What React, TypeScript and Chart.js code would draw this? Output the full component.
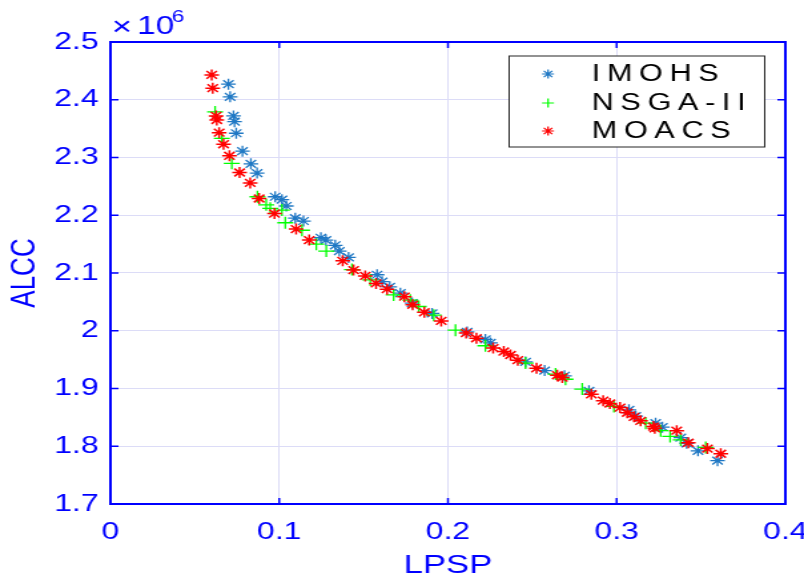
import React, { useEffect, useRef } from 'react';
import { Chart, registerables } from 'chart.js';
import { drawPoint } from 'chart.js/helpers';

Chart.register(...registerables);

// ---- data (ALCC in units of 1e6) ----
const imohsX = [0.0699, 0.0709, 0.0729, 0.0735, 0.0745, 0.0782, 0.0832, 0.0869, 0.0976, 0.1016, 0.1042, 0.1095, 0.1144, 0.1247, 0.1277, 0.1332, 0.1356, 0.1411, 0.158, 0.161, 0.1655, 0.1718, 0.1788, 0.1906, 0.2114, 0.2222, 0.2252, 0.246, 0.2573, 0.2691, 0.2836, 0.3073, 0.3113, 0.3231, 0.3271, 0.338, 0.3415, 0.3482, 0.3598];
const imohsY = [2.427, 2.405, 2.372, 2.362, 2.342, 2.311, 2.289, 2.273, 2.232, 2.227, 2.216, 2.195, 2.19, 2.161, 2.157, 2.148, 2.138, 2.127, 2.097, 2.085, 2.076, 2.065, 2.048, 2.03, 1.998, 1.985, 1.979, 1.946, 1.931, 1.922, 1.896, 1.863, 1.852, 1.84, 1.833, 1.815, 1.805, 1.792, 1.775];

const nsgaX = [0.062, 0.066, 0.0719, 0.0871, 0.0923, 0.0947, 0.1016, 0.1036, 0.1135, 0.122, 0.1279, 0.1431, 0.154, 0.1678, 0.1777, 0.1827, 0.1916, 0.2045, 0.2222, 0.246, 0.2638, 0.2697, 0.2796, 0.2984, 0.3172, 0.3261, 0.3317, 0.338, 0.3528];
const nsgaY = [2.379, 2.333, 2.29, 2.232, 2.218, 2.212, 2.209, 2.187, 2.174, 2.15, 2.138, 2.106, 2.088, 2.062, 2.053, 2.042, 2.027, 2.001, 1.974, 1.944, 1.925, 1.916, 1.899, 1.869, 1.84, 1.827, 1.817, 1.811, 1.798];

const moacsX = [0.06, 0.0606, 0.0626, 0.063, 0.0644, 0.067, 0.0705, 0.0765, 0.0828, 0.0881, 0.0972, 0.11, 0.1178, 0.1376, 0.1441, 0.151, 0.1574, 0.1639, 0.1742, 0.1791, 0.186, 0.196, 0.2108, 0.2169, 0.2268, 0.2331, 0.2371, 0.2414, 0.2525, 0.2648, 0.2678, 0.285, 0.292, 0.296, 0.302, 0.3063, 0.3103, 0.3142, 0.3218, 0.3226, 0.3356, 0.3425, 0.3538, 0.3617];
const moacsY = [2.443, 2.42, 2.372, 2.365, 2.343, 2.323, 2.303, 2.274, 2.256, 2.229, 2.203, 2.176, 2.157, 2.121, 2.105, 2.095, 2.082, 2.072, 2.059, 2.045, 2.032, 2.017, 1.996, 1.987, 1.97, 1.964, 1.958, 1.949, 1.935, 1.923, 1.919, 1.89, 1.879, 1.874, 1.867, 1.858, 1.851, 1.844, 1.834, 1.831, 1.827, 1.806, 1.796, 1.787];

const seriesNames = ['IMOHS', 'NSGA-II', 'MOACS'];
const xTickValues = [0, 0.1, 0.2, 0.3, 0.4];
const xTickLabels = ['0', '0.1', '0.2', '0.3', '0.4'];
const yTickValues = [1.7, 1.8, 1.9, 2.0, 2.1, 2.2, 2.3, 2.4, 2.5];
const yTickLabels = ['1.7', '1.8', '1.9', '2', '2.1', '2.2', '2.3', '2.4', '2.5'];

const W = 604;
const H = 576;
const FONT = '"Liberation Sans", Arial, sans-serif';
const BLUE_AXIS = '#0000ff';
const COLORS = ['#1f78c4', '#00ff00', '#ff0000'];
const STYLES = ['star', 'cross', 'star'];

const zip = (xs: number[], ys: number[]) => xs.map((x, i) => ({ x, y: ys[i] }));

const decorPlugin = {
  id: 'decor',
  afterDatasetsDraw(chart: any) {
    const { ctx, chartArea: a, scales } = chart;
    ctx.save();
    ctx.strokeStyle = BLUE_AXIS;
    ctx.lineWidth = 2;
    ctx.strokeRect(a.left, a.top, a.right - a.left, a.bottom - a.top);
    const tl = 6;
    ctx.lineWidth = 1.5;
    ctx.beginPath();
    for (const t of scales.x.ticks) {
      const px = scales.x.getPixelForValue(t.value);
      ctx.moveTo(px, a.bottom); ctx.lineTo(px, a.bottom - tl);
      ctx.moveTo(px, a.top); ctx.lineTo(px, a.top + tl);
    }
    for (const t of scales.y.ticks) {
      const py = scales.y.getPixelForValue(t.value);
      ctx.moveTo(a.left, py); ctx.lineTo(a.left + tl, py);
      ctx.moveTo(a.right, py); ctx.lineTo(a.right - tl, py);
    }
    ctx.stroke();
    ctx.restore();
  },
  afterDraw(chart: any) {
    const { ctx } = chart;
    ctx.save();
    // exponent
    ctx.fillStyle = BLUE_AXIS;
    ctx.textBaseline = 'alphabetic';
    ctx.textAlign = 'left';
    ctx.font = `26px ${FONT}`;
    ctx.fillText('\u00d7', 84, 35);
    ctx.font = `25px ${FONT}`;
    ctx.fillText('10', 103, 34);
    ctx.font = `17px ${FONT}`;
    ctx.fillText('6', 129, 22);

    // legend
    const lx = 382.5, ly = 56, lw = 192, lh = 91;
    ctx.fillStyle = '#ffffff';
    ctx.fillRect(lx, ly, lw, lh);
    ctx.strokeStyle = '#262626';
    ctx.lineWidth = 1;
    ctx.strokeRect(lx, ly, lw, lh);
    const rows = [74, 103, 131];
    ctx.font = `23px ${FONT}`;
    (ctx as any).letterSpacing = '5px';
    ctx.textBaseline = 'middle';
    rows.forEach((ry, i) => {
      ctx.strokeStyle = COLORS[i];
      ctx.fillStyle = COLORS[i];
      ctx.lineWidth = 1.2;
      drawPoint(ctx, { pointStyle: STYLES[i], radius: 4.5, rotation: 0, borderWidth: 1.2 } as any, 411.7, ry);
      ctx.fillStyle = '#000000';
      ctx.fillText(seriesNames[i], 444.5, ry + 1);
    });
    ctx.restore();
  },
};

export default function App() {
  const ref = useRef<HTMLCanvasElement | null>(null);
  useEffect(() => {
    if (!ref.current) return;
    const chart = new Chart(ref.current, {
      type: 'scatter',
      data: {
        datasets: [
          { label: seriesNames[0], data: zip(imohsX, imohsY), pointStyle: 'star', radius: 5.5, borderColor: COLORS[0], backgroundColor: COLORS[0], borderWidth: 1.3, order: 2 },
          { label: seriesNames[1], data: zip(nsgaX, nsgaY), pointStyle: 'cross', radius: 6, borderColor: COLORS[1], backgroundColor: COLORS[1], borderWidth: 1.3, order: 1 },
          { label: seriesNames[2], data: zip(moacsX, moacsY), pointStyle: 'star', radius: 5.5, borderColor: COLORS[2], backgroundColor: COLORS[2], borderWidth: 1.5, order: 0 },
        ] as any,
      },
      options: {
        animation: false,
        responsive: false,
        devicePixelRatio: 1,
        layout: { autoPadding: false, padding: { left: 0, top: 42, right: 14, bottom: 0 } } as any,
        plugins: { legend: { display: false }, tooltip: { enabled: false } },
        scales: {
          x: {
            type: 'linear', min: 0, max: 0.4,
            afterBuildTicks: (s: any) => { s.ticks = xTickValues.map((v) => ({ value: v })); },
            afterFit: (s: any) => { s.height = 72; s.paddingLeft = 0; s.paddingRight = 0; },
            ticks: { callback: (_v: any, i: number) => xTickLabels[i], color: BLUE_AXIS, font: { family: FONT, size: 24 }, padding: 14, maxRotation: 0, autoSkip: false },
            grid: { color: '#dcdcf7', lineWidth: 1, drawTicks: false },
            border: { display: false },
            title: { display: true, text: 'LPSP', color: BLUE_AXIS, font: { family: FONT, size: 26, lineHeight: 1 }, padding: { top: 0, bottom: -3 } },
          },
          y: {
            type: 'linear', min: 1.7, max: 2.5,
            afterBuildTicks: (s: any) => { s.ticks = yTickValues.map((v) => ({ value: v })); },
            afterFit: (s: any) => { s.width = 83; s.paddingTop = 0; s.paddingBottom = 0; },
            ticks: { callback: (_v: any, i: number) => yTickLabels[i], color: BLUE_AXIS, font: { family: FONT, size: 24 }, padding: 9, autoSkip: false },
            grid: { color: '#dcdcf7', lineWidth: 1, drawTicks: false },
            border: { display: false },
            title: { display: true, text: 'ALCC', color: BLUE_AXIS, font: { family: FONT, size: 26 }, padding: { top: 3, bottom: 0 } },
          },
        },
      } as any,
      plugins: [decorPlugin],
    });
    return () => chart.destroy();
  }, []);

  return (
    <div style={{ position: 'absolute', left: 0, top: 0, width: 804, height: 576, overflow: 'hidden', background: '#fff' }}>
      <div style={{ width: W, height: H, transform: `scaleX(${804 / W})`, transformOrigin: '0 0' }}>
        <canvas ref={ref} width={W} height={H} />
      </div>
    </div>
  );
}
